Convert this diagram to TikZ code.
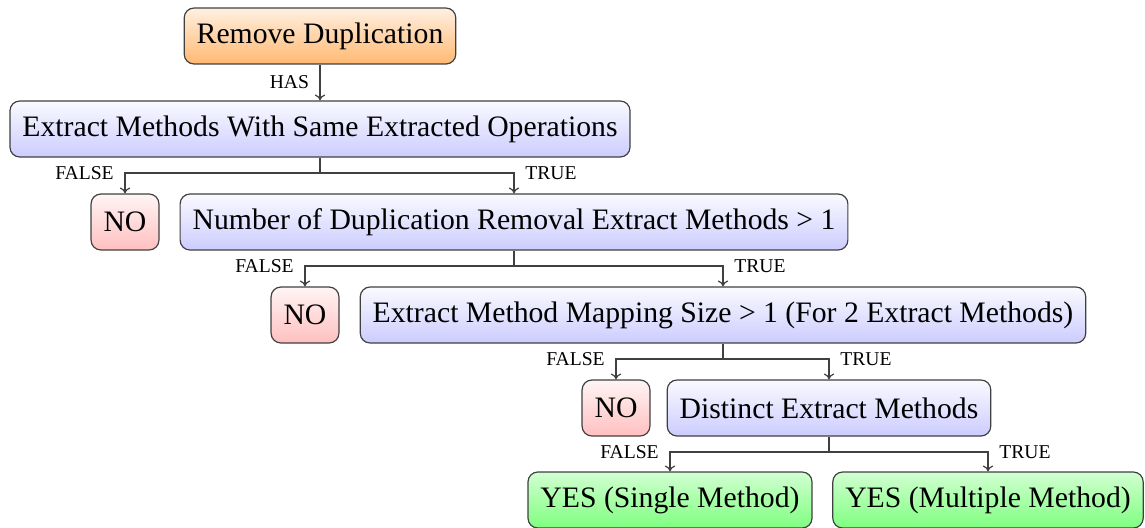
\documentclass[tikz,border=0pt]{standalone}
\usepackage{fontspec}
\setmainfont{Liberation Serif}
\usetikzlibrary{arrows.meta}
\begin{document}
\begin{tikzpicture}[x=0.3367pt,y=-0.3367pt,
  box/.style={draw=black!75, rounded corners=3.3pt, minimum height=18.85pt, inner xsep=4.2pt, font=\fontsize{10}{12}\selectfont, anchor=center},
  orangebox/.style={box, top color=orange!12, bottom color=orange!55},
  bluebox/.style={box, top color=blue!2, bottom color=blue!20},
  redbox/.style={box, top color=red!4, bottom color=red!25},
  greenbox/.style={box, top color=green!18, bottom color=green!50},
  conn/.style={draw=black!75, line width=0.4pt, -{To[length=2pt,width=3.5pt]}},
  lbl/.style={font=\fontsize{6.6}{8}\selectfont, inner sep=1pt},
  flbl/.style={lbl, pos=0.5, anchor=east, xshift=-2.6pt},
  tlbl/.style={lbl, pos=0.5, anchor=west, xshift=2.6pt}
]
\useasboundingbox (0,0) rectangle (1145,527);
\node[orangebox] (rd) at (320,36) {Remove Duplication};
\node[bluebox] (em) at (320,129) {Extract Methods With Same Extracted Operations};
\node[redbox] (no1) at (125,222) {NO};
\node[bluebox] (nd) at (514,222) {Number of Duplication Removal Extract Methods > 1};
\node[redbox] (no2) at (305,315) {NO};
\node[bluebox] (mm) at (723,315) {Extract Method Mapping Size > 1 (For 2 Extract Methods)};
\node[redbox] (no3) at (616,408) {NO};
\node[bluebox] (de) at (829,408) {Distinct Extract Methods};
\node[greenbox] (ys) at (670,500) {YES (Single Method)};
\node[greenbox] (ym) at (988,500) {YES (Multiple Method)};

\draw[conn] (rd.south) -- node[lbl, left=2.5pt] {HAS} (em.north);

\coordinate (j1) at (320,173);
\coordinate (j2) at (514,266);
\coordinate (j3) at (723,359);
\coordinate (j4) at (829,452);

\draw[draw=black!75] (em.south) -- (j1);
\draw[conn] (j1) -| node[flbl] {FALSE} (no1.north);
\draw[conn] (j1) -| node[tlbl] {TRUE} (nd.north);

\draw[draw=black!75] (nd.south) -- (j2);
\draw[conn] (j2) -| node[flbl] {FALSE} (no2.north);
\draw[conn] (j2) -| node[tlbl] {TRUE} (mm.north);

\draw[draw=black!75] (mm.south) -- (j3);
\draw[conn] (j3) -| node[flbl] {FALSE} (no3.north);
\draw[conn] (j3) -| node[tlbl] {TRUE} (de.north);

\draw[draw=black!75] (de.south) -- (j4);
\draw[conn] (j4) -| node[flbl] {FALSE} (ys.north);
\draw[conn] (j4) -| node[tlbl] {TRUE} (ym.north);
\end{tikzpicture}
\end{document}
